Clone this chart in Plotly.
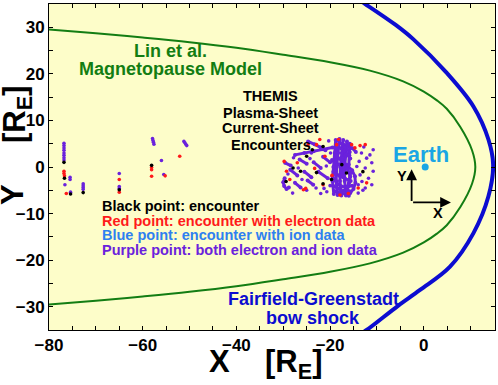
import plotly.graph_objects as go

# ---------------- data ----------------
# Lin et al. magnetopause
mp_x = [-80, -70, -60, -50, -40, -30, -20, -11.5, -4.4, 0, 2.8, 4.9, 7.8, 10.3, 11.0,
        10.3, 7.8, 4.9, 2.8, 0, -4.4, -11.5, -20, -30, -40, -50, -60, -70, -80]
mp_y = [29.5, 28.7, 27.8, 26.8, 25.6, 24.1, 22.5, 20.7, 18.4, 16.2, 14.3, 12.5, 8.6, 3.6, 0.0,
        -3.6, -8.6, -12.5, -14.3, -16.2, -18.4, -20.7, -22.5, -24.1, -25.6, -26.8, -27.8, -28.7, -29.5]

# Fairfield-Greenstadt bow shock
bs_x = [-14.0, -12.5, -6.0, -2.2, 4.9, 10.6, 13.8, 14.8, 13.8, 10.6, 5.6, -0.8, -5.5, -12.2, -13.8]
bs_y = [36.0, 35.0, 30.5, 27.4, 20.2, 13.0, 5.9, 0.5, -6.3, -14.2, -21.4, -26.4, -29.8, -35.0, -36.0]

# purple orbit tracks in the dense encounter cluster (None separates tracks)
track_x = [-27.5, -25.5, -23.5, -21.5, -19.5, None,
           -24.7, -23.3, -22.0, -21.0, None,
           -29.6, -28.4, None,
           -28.5, -27.0, None,
           -26.5, -25.0, None,
           -25.5, -24.0, None,
           -23.5, -22.0, None,
           -22.5, -20.5, None,
           -21.5, -20.0, None,
           -27.5, -26.3, None,
           -29.7, -30.0, -29.8, -29.3, -28.8, None,
           -24.8, -23.6, None,
           -18.8, -19.0, -19.3, -19.5, -19.2, None,
           -18.0, -18.3, -18.6, -18.7, -18.4, None,
           -17.2, -17.5, -17.8, -17.9, -17.6, None,
           -16.4, -16.7, -16.9, -16.9, -16.6, None,
           -17.5, -16.3, -15.2, -14.5, None,
           -17.5, -16.3, -15.3, -14.7, -14.6, -15.0, -15.7, -16.6, None,
           -18.7, -17.2, -16.2, -15.7, -16.0, -16.9, None,
           -19.3, -18.0, -16.8, -15.6, None,
           -18.6, -17.4, -16.4, -15.7, None,
           -19.4, -18.2, -17.0, -15.8, None,
           -15.8, -15.9, -16.0, None,
           -19.6, -19.0, -18.0, -17.0, None,
           -19.5, -18.5, -17.5, -16.3, -15.3, None,
           -18.2, -16.8, -15.8, None,
           -19.0, -17.8, -16.2, None,
           -18.4, -18.7, -19.0, None,
           -17.0, -17.3, -17.4, None,
           -15.6, -15.9, -16.3, -16.0]
track_y = [2.6, 3.0, 3.4, 3.8, 4.2, None,
           5.5, 4.9, 4.2, 3.6, None,
           0.9, 0.3, None,
           -0.6, -1.8, None,
           1.6, 0.7, None,
           -1.0, -2.2, None,
           1.0, -0.2, None,
           -1.0, -2.4, None,
           2.2, 1.0, None,
           -3.4, -4.4, None,
           -2.4, -3.3, -4.1, -4.7, -4.4, None,
           -2.9, -3.8, None,
           5.8, 3.0, 0.0, -3.0, -5.8, None,
           6.0, 3.0, 0.0, -3.0, -6.0, None,
           5.8, 3.0, 0.0, -3.0, -6.1, None,
           5.5, 2.5, 0.0, -3.0, -6.0, None,
           5.0, 4.6, 4.0, 3.2, None,
           1.5, 0.4, -0.7, -2.0, -3.4, -4.7, -5.6, -6.1, None,
           2.5, 1.0, -0.6, -2.1, -3.6, -5.0, None,
           -1.0, -1.9, -2.5, -3.0, None,
           4.8, 3.8, 2.8, 1.8, None,
           -4.0, -4.6, -5.3, -5.2, None,
           5.0, 2.5, 0.5, None,
           1.5, 1.0, 0.5, 0.2, None,
           -2.0, -3.6, -4.2, -4.3, -4.0, None,
           5.6, 4.2, 3.2, None,
           -5.2, -5.6, -5.8, None,
           4.5, 1.5, -1.5, None,
           3.5, 0.8, -1.8, None,
           -1.2, -3.2, -5.0, -6.2]

# individual encounter points
purple_x = [-76.8, -76.8, -76.8, -76.8, -76.8, -76.8, -76.8, -76.8, -76.6, -75.5, -75.5, -75.4,
            -72.7, -72.7, -72.7, -72.7, -65.0, -65.0, -65.0, -57.9, -57.8, -57.7, -57.6, -56.0,
            -55.5, -51.2, -51.0, -50.8, -50.6,
            -29.0, -26.0, -24.0, -23.0, -22.0, -20.0, -27.8, -25.0, -21.3, -20.7, -28.0, -26.8,
            -24.3, -20.8, -20.3, -19.9,
            -13.3, -12.2, -11.1, -12.5, -10.8, -10.8, -11.8, -13.2, -11.1, -12.5, -14.0, -14.3,
            -13.6, -13.8, -12.8, -11.5, -13.0, -14.0]
purple_y = [5.1, 4.6, 4.1, 3.6, 3.0, 2.5, 2.0, 1.5, -3.8, -2.2, -2.7, -5.4,
            -3.6, -4.0, -4.4, -4.8, -1.4, -4.2, -4.6, 6.1, 5.7, 5.3, 4.9, 1.4,
            -1.6, 5.5, 5.2, 4.9, 4.6,
            -1.5, -2.7, 3.0, -4.5, -5.7, -4.0, 2.0, -5.0, -4.6, -5.3, -5.6, -0.2,
            1.8, 0.2, 5.6, 3.0,
            3.0, 1.9, 0.9, -0.2, 3.7, -0.9, -2.4, -3.1, -3.8, -4.5, -5.6, 0.1,
            -1.7, 1.2, 4.3, 2.6, -5.0, -3.8]

red_x = [-76.8, -76.8, -76.7, -76.3, -65.0, -65.0, -58.1, -58.1, -58.1, -55.2, -52.1,
         -29.8, -29.3, -24.7, -22.2, -22.9, -21.1, -25.7, -25.2, -21.5, -18.6, -28.6, -18.2,
         -15.4, -14.7, -13.6, -12.5, -12.2, -14.0, -16.1, -17.9, -27.0, -23.3, -19.6]
red_y = [-0.9, -1.4, -1.9, -5.7, -2.7, -5.4, -0.1, -0.6, -2.0, -1.9, 2.3,
         1.2, -0.9, 4.8, 5.9, 4.8, 2.3, -4.9, -4.6, -3.8, 4.8, -2.7, 5.9,
         4.8, 4.1, 4.6, 4.8, -3.4, -4.5, -5.7, -6.0, 0.9, -0.3, -1.8]

black_x = [-76.8, -76.7, -75.4, -72.7, -65.0, -58.1,
           -21.5, -25.0, -27.9, -26.3, -22.9, -19.7, -21.5, -29.4, -17.5, -16.5, -23.8, -13.0]
black_y = [1.0, -2.4, -5.8, -5.5, -4.9, 0.35,
           4.4, 2.3, -0.2, -0.9, -1.2, -2.7, -3.6, -3.1, 0.5, -1.3, 3.7, -1.0]

earth_x = [0.3]
earth_y = [0.0]

x_ticks = list(range(-80, 16, 5))
x_labels = {-80: "−80", -60: "−60", -40: "−40", -20: "−20", 0: "0"}
y_ticks = list(range(-35, 36, 5))
y_labels = {-30: "−30", -20: "−20", -10: "−10", 0: "0", 10: "10", 20: "20", 30: "30"}

# ---------------- colours ----------------
GREEN = "#137d13"
BLUE = "#0c0cd0"
PURPLE = "#6a22dc"
RED = "#ff1a1a"
LBLUE = "#2e80f0"
CYAN = "#1aa6e4"
FONT = "Liberation Sans, Arial, sans-serif"

W, H = 498, 385
L, R, T, B = 49, 3, 4, 55
pw, ph = W - L - R, H - T - B

fig = go.Figure()
fig.add_trace(go.Scatter(x=mp_x, y=mp_y, mode="lines", line=dict(color=GREEN, width=2, shape="spline"),
                         hoverinfo="skip"))
fig.add_trace(go.Scatter(x=bs_x, y=bs_y, mode="lines", line=dict(color=BLUE, width=4, shape="spline"),
                         hoverinfo="skip"))
fig.add_trace(go.Scatter(x=track_x, y=track_y, mode="lines+markers",
                         line=dict(color=PURPLE, width=3),
                         marker=dict(color=PURPLE, size=4, line=dict(width=0)),
                         connectgaps=False))
fig.add_trace(go.Scatter(x=purple_x, y=purple_y, mode="markers",
                         marker=dict(color=PURPLE, size=3.6, line=dict(width=0))))
fig.add_trace(go.Scatter(x=red_x, y=red_y, mode="markers",
                         marker=dict(color=RED, size=3.6, line=dict(width=0))))
fig.add_trace(go.Scatter(x=black_x, y=black_y, mode="markers",
                         marker=dict(color="black", size=3.6, line=dict(width=0))))
fig.add_trace(go.Scatter(x=earth_x, y=earth_y, mode="markers",
                         marker=dict(color=CYAN, size=7, line=dict(width=0))))


def txt(x, y, text, size, color, xanchor="center"):
    fig.add_annotation(x=x, y=y, xref="x", yref="y", text=text, showarrow=False,
                       xanchor=xanchor, yanchor="middle",
                       font=dict(family=FONT, size=size, color=color, weight="bold"))


txt(-54, 24.9, "Lin et al.", 18, GREEN)
txt(-54, 21.0, "Magnetopause Model", 18, GREEN)
txt(-32.7, 15.2, "THEMIS", 14.5, "black")
txt(-32.7, 11.7, "Plasma-Sheet", 14.5, "black")
txt(-32.7, 8.3, "Current-Sheet", 14.5, "black")
txt(-32.7, 4.8, "Encounters", 14.5, "black")
txt(-69.2, -8.3, "Black point: encounter", 14.5, "black", xanchor="left")
txt(-69.2, -11.5, "Red point: encounter with electron data", 14.5, RED, xanchor="left")
txt(-69.2, -14.6, "Blue point: encounter with ion data", 14.5, LBLUE, xanchor="left")
txt(-69.2, -17.8, "Purple point: both electron and ion data", 14.5, PURPLE, xanchor="left")
txt(-0.6, 2.6, "Earth", 22, CYAN)
txt(-4.7, -1.9, "Y", 14.5, "black")
txt(3.0, -9.8, "X", 14.5, "black")
txt(-23.6, -28.4, "Fairfield-Greenstadt", 18, BLUE)
txt(-23.6, -32.5, "bow shock", 18, BLUE)

# arrows of the small X/Y frame
fig.add_annotation(x=-2.6, y=-0.5, ax=-2.6, ay=-7.6, xref="x", yref="y", axref="x", ayref="y",
                   text="", showarrow=True, arrowhead=2, arrowsize=1.2, arrowwidth=1.8,
                   arrowcolor="black")
fig.add_annotation(x=5.8, y=-7.6, ax=-2.6, ay=-7.6, xref="x", yref="y", axref="x", ayref="y",
                   text="", showarrow=True, arrowhead=2, arrowsize=1.2, arrowwidth=1.8,
                   arrowcolor="black")


def title_ann(px, py, text, size, angle=0):
    fig.add_annotation(x=(px - L) / pw, y=(H - B - py) / ph, xref="paper", yref="paper",
                       text=text, showarrow=False, xanchor="center", yanchor="middle",
                       textangle=angle,
                       font=dict(family=FONT, size=size, color="black", weight="bold"))


title_ann(219, 361, "X", 31)
title_ann(294, 364, "[R<sub>E</sub>]", 31)
title_ann(13, 195, "Y", 31, angle=-90)
title_ann(17, 114, "[R<sub>E</sub>]", 31, angle=-90)

axis_common = dict(showgrid=False, zeroline=False, showline=True, linecolor="black", linewidth=1,
                   mirror="ticks", ticks="inside", ticklen=4, tickwidth=1, tickcolor="black",
                   automargin=False,
                   tickfont=dict(family=FONT, size=17, color="black", weight="bold"),
                   tickmode="array")

fig.update_xaxes(range=[-80, 15.2], tickvals=x_ticks,
                 ticktext=[x_labels.get(v, "") for v in x_ticks], **axis_common)
fig.update_yaxes(range=[-35, 35], tickvals=y_ticks,
                 ticktext=[y_labels.get(v, "") for v in y_ticks], **axis_common)

fig.update_layout(width=W, height=H, margin=dict(l=L, r=R, t=T, b=B, pad=0, autoexpand=False),
                  paper_bgcolor="white", plot_bgcolor="#fdfdc9", showlegend=False)

fig.write_html("out.html", config={"displayModeBar": False},
               post_script="document.body.style.margin='0px';document.body.style.overflow='hidden';")
